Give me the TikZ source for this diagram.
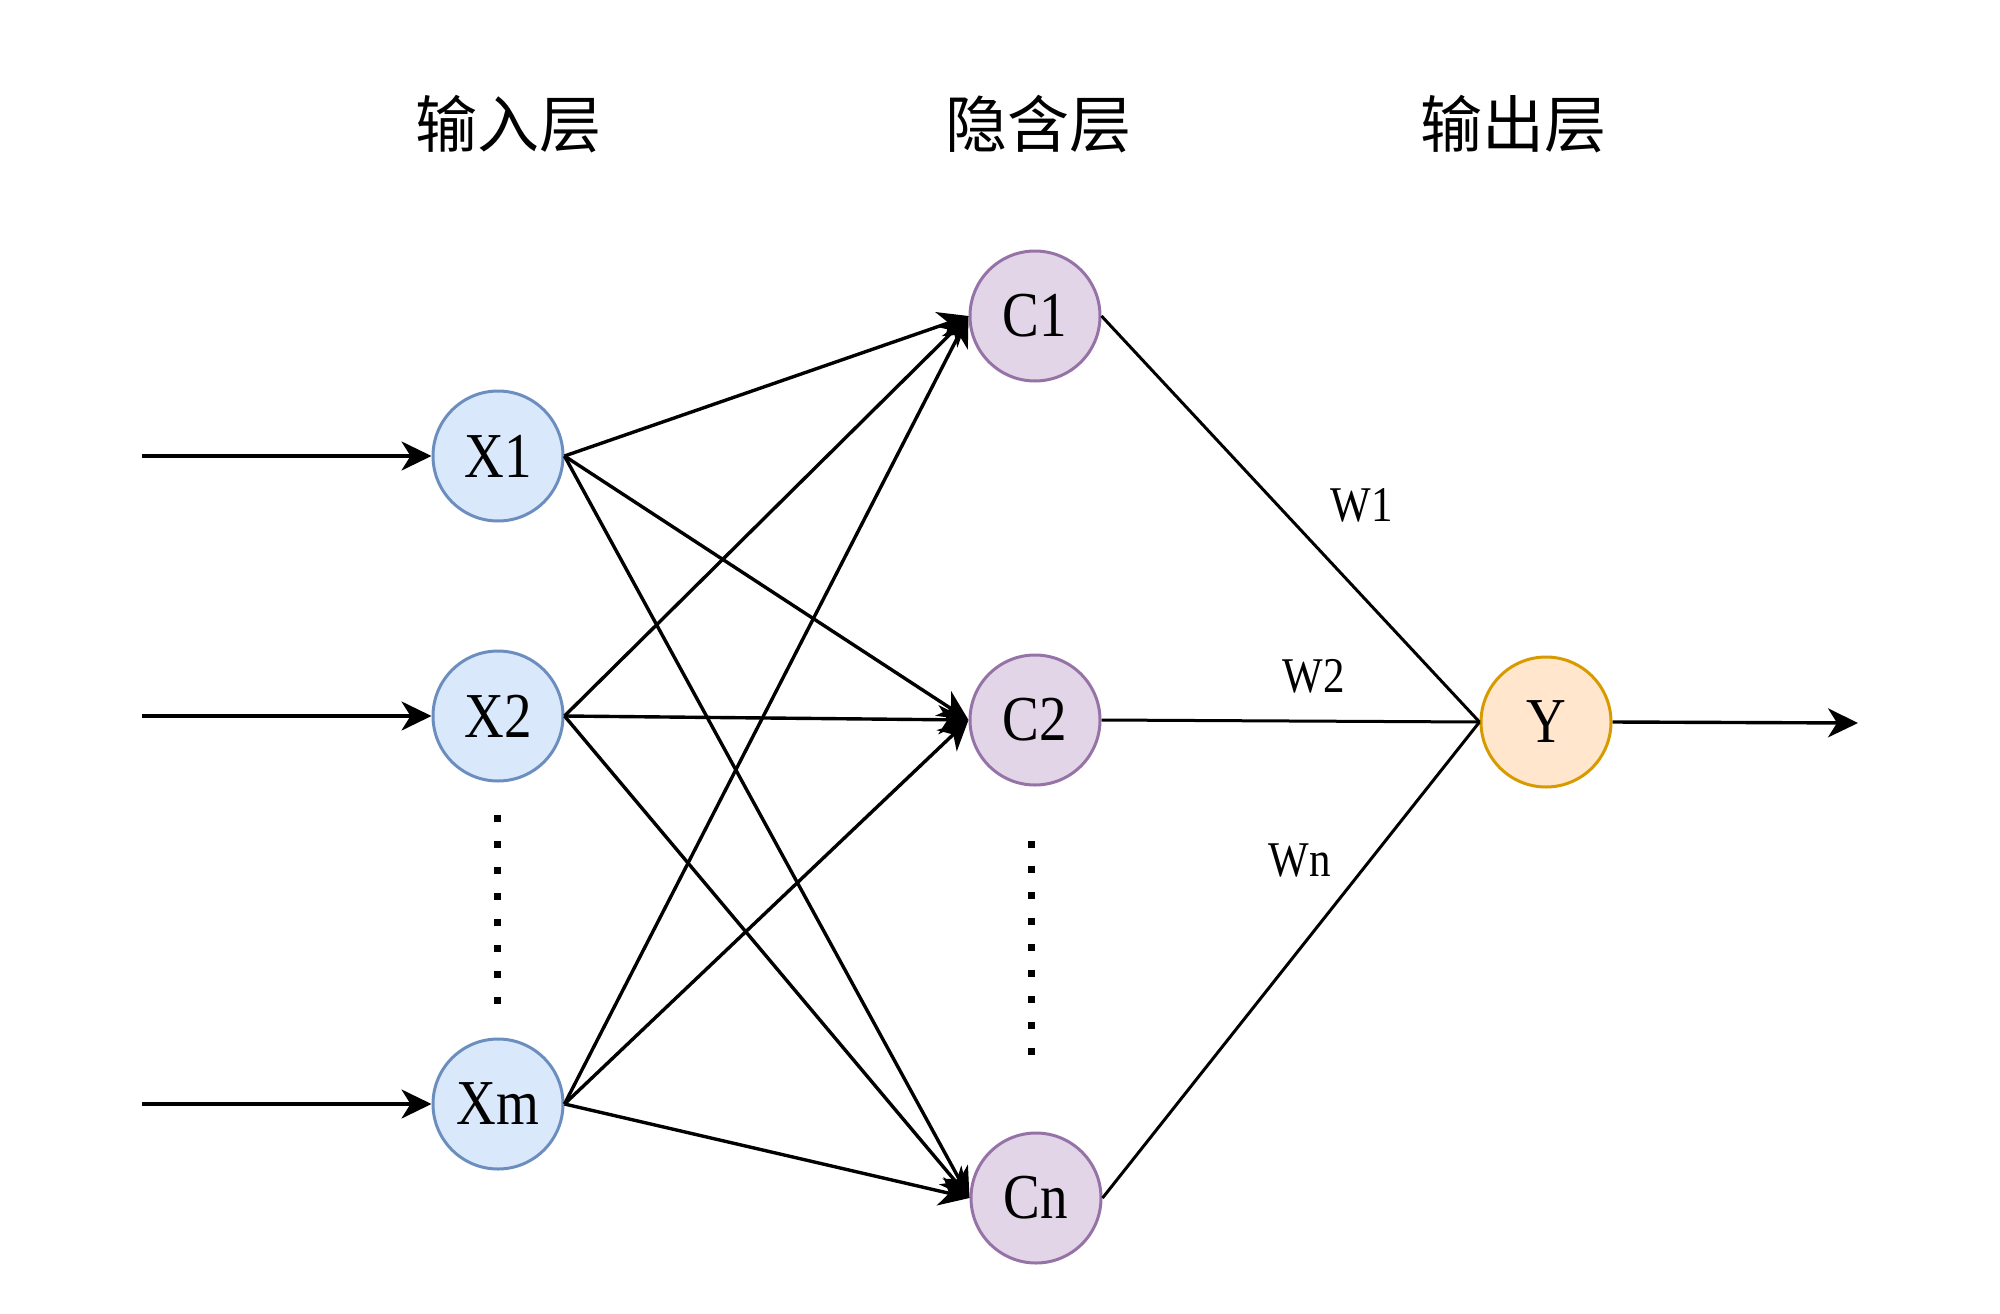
\documentclass[tikz,border=0pt]{standalone}
\usepackage{fontspec}
\setmainfont{Liberation Serif}[FakeStretch=0.86]
\newfontfamily\cjk{Noto Sans CJK SC}
\usetikzlibrary{arrows.meta}
\definecolor{xfill}{HTML}{DAE8FC}
\definecolor{xdraw}{HTML}{6C8EBF}
\definecolor{cfill}{HTML}{E1D5E7}
\definecolor{cdraw}{HTML}{9673A6}
\definecolor{yfill}{HTML}{FFE6CC}
\definecolor{ydraw}{HTML}{D79B00}
\begin{document}
\begin{tikzpicture}[x=1pt,y=-1pt,
  neuron/.style={circle, minimum size=130pt, inner sep=0pt, line width=3pt,
    font=\fontsize{64}{64}\selectfont},
  xnode/.style={neuron, draw=xdraw, fill=xfill},
  cnode/.style={neuron, draw=cdraw, fill=cfill},
  ynode/.style={neuron, draw=ydraw, fill=yfill},
  title/.style={font=\cjk\fontsize{62}{62}\selectfont, inner sep=0pt},
  wlabel/.style={font=\fontsize{50}{50}\selectfont, inner sep=0pt},
  arrowedge/.style={line width=3.4pt, -{Stealth[length=30pt, width=29pt, inset=9pt]}},
  link/.style={line width=3pt},
  dot/.style={fill=black}
]
\useasboundingbox (0,0) rectangle (2000,1314);

% titles
\node[title] (t1) at (508,124) {输入层};
\node[title] (t2) at (1038,124) {隐含层};
\node[title] (t3) at (1513,124) {输出层};

% nodes
\node[xnode] (X1) at (498,456) {X1};
\node[xnode] (X2) at (498,716) {X2};
\node[xnode] (Xm) at (498,1104) {Xm};
\node[cnode] (C1) at (1035,316) {C1};
\node[cnode] (C2) at (1035,720) {C2};
\node[cnode] (Cn) at (1036,1198) {Cn};
\node[ynode] (Y) at (1546,722) {Y};

% free ends
\coordinate (in1) at (142,456);
\coordinate (in2) at (142,716);
\coordinate (inm) at (142,1104);
\coordinate (out) at (1858,723);

% input arrows
\draw[arrowedge] (in1) -- (X1.west);
\draw[arrowedge] (in2) -- (X2.west);
\draw[arrowedge] (inm) -- (Xm.west);

% input to hidden
\foreach \a in {X1,X2,Xm}{
  \foreach \b in {C1,C2,Cn}{
    \draw[arrowedge] (\a.east) -- (\b.west);
  }
}

% hidden to output
\draw[link] (C1.east) -- (Y.west);
\draw[link] (C2.east) -- (Y.west);
\draw[link] (Cn.east) -- (Y.west);

% output arrow
\draw[arrowedge] (Y.east) -- (out);

% weight labels
\node[wlabel] (w1) at (1362,505) {W1};
\node[wlabel] (w2) at (1314,676) {W2};
\node[wlabel] (wn) at (1300,860) {Wn};

% dots
\foreach \i in {0,...,7}
  \fill[dot] (493.5,814.5+26*\i) rectangle ++(7,7);
\foreach \i in {0,...,8}
  \fill[dot] (1027.5,840.5+25.9*\i) rectangle ++(7,7);
\end{tikzpicture}
\end{document}
